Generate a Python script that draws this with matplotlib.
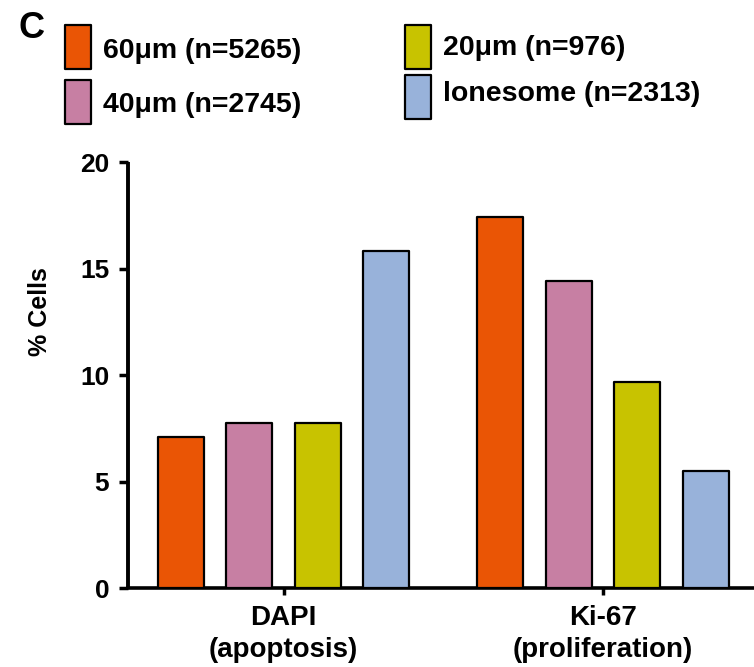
import matplotlib
matplotlib.use("Agg")
import matplotlib.pyplot as plt
from matplotlib.patches import Rectangle
import numpy as np

plt.rcParams['font.family'] = ['Liberation Sans', 'DejaVu Sans']
plt.rcParams['font.weight'] = 'bold'

# Data
groups = ["DAPI\n(apoptosis)", "Ki-67\n(proliferation)"]
series_names = ["60\u03bcm (n=5265)", "40\u03bcm (n=2745)", "20\u03bcm (n=976)", "lonesome (n=2313)"]
val_60um = [7.1, 17.4]
val_40um = [7.75, 14.4]
val_20um = [7.75, 9.65]
val_lonesome = [15.8, 5.5]
yticks = [0, 5, 10, 15, 20]

colors = ["#EA5505", "#C77FA3", "#C8C300", "#98B2DA"]
series = [val_60um, val_40um, val_20um, val_lonesome]

fig = plt.figure(figsize=(7.54, 6.67), dpi=100)
ax = fig.add_axes([0.1698, 0.1184, 0.8302, 0.6387])

x = np.arange(len(groups))
step = 0.2144
width = 0.144
for i, (vals, col) in enumerate(zip(series, colors)):
    ax.bar(x + (i - 1.5) * step, vals, width=width, color=col,
           edgecolor="black", linewidth=1.6, joinstyle="round", zorder=3)

ax.set_xlim(-0.487, 1.4726)
ax.set_ylim(0, 20)
ax.set_yticks(yticks)
ax.set_yticklabels([str(t) for t in yticks], fontsize=19, fontweight='bold')
ax.set_xticks(x)
ax.set_xticklabels(groups, fontsize=20, fontweight='bold', linespacing=1.3)

for s in ["top", "right"]:
    ax.spines[s].set_visible(False)
ax.spines["left"].set_linewidth(2.8)
ax.spines["bottom"].set_linewidth(2.6)
ax.spines["left"].set_capstyle("butt")
ax.tick_params(axis="y", direction="out", length=6.5, width=2.5, pad=7)
ax.tick_params(axis="x", direction="out", length=5, width=2.5, pad=7)

ax.set_ylabel("% Cells", fontsize=18, fontweight='bold')
ax.yaxis.set_label_coords(-0.122, 0.65)

# Panel letter
fig.text(31 / 754, 1 - 29 / 667, "C", fontsize=26, fontweight='bold',
         ha="center", va="center")

# Legend drawn as patches with labels in figure pixels
W, H = 754, 667
legend_pos = [(65, 25, 103, 51), (65, 80, 103, 105), (405, 25, 443, 48), (405, 75, 443, 94)]
for (px, py, tx, ty), col, name in zip(legend_pos, colors, series_names):
    fig.patches.append(Rectangle((px / W, 1 - (py + 44) / H), 26 / W, 44 / H,
                                 transform=fig.transFigure, facecolor=col,
                                 edgecolor="black", linewidth=1.6, joinstyle="round"))
    fig.text(tx / W, 1 - ty / H, name, fontsize=20.5, fontweight='bold',
             ha="left", va="center")

fig.savefig("out.png", dpi=100)
